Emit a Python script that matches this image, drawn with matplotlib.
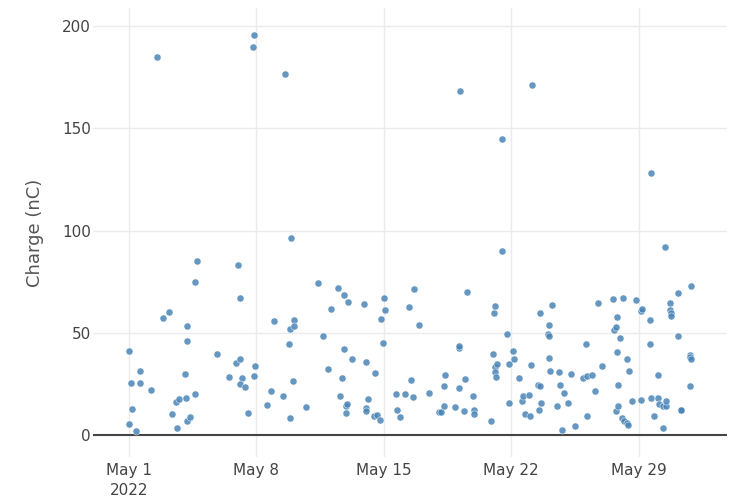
import matplotlib
matplotlib.use("Agg")
import matplotlib.pyplot as plt
import pandas as pd

times = [
    "04-30 23:30", "05-01 00:00", "05-01 02:30", "05-01 04:00", "05-01 09:00",
    "05-01 14:30", "05-01 15:00", "05-02 05:30", "05-02 12:30", "05-02 20:30",
    "05-03 05:00", "05-03 08:30", "05-03 14:30", "05-03 15:00", "05-03 17:30",
    "05-04 01:30", "05-04 03:30", "05-04 04:00", "05-04 04:30", "05-04 04:00",
    "05-04 08:00", "05-04 15:00", "05-04 15:00", "05-04 17:15", "05-05 20:30",
    "05-06 11:45", "05-06 20:40", "05-07 00:00", "05-07 02:30", "05-07 02:40",
    "05-07 04:30", "05-07 02:30", "05-07 08:40", "05-07 13:30", "05-07 19:30",
    "05-07 21:20", "05-07 21:20", "05-07 22:30", "05-08 14:00", "05-08 19:10",
    "05-08 23:45", "05-09 10:50", "05-09 13:40", "05-09 18:30", "05-09 20:25",
    "05-09 20:40", "05-09 21:35", "05-10 00:00", "05-10 01:40", "05-10 01:40",
    "05-10 16:50", "05-11 08:50", "05-11 15:50", "05-11 22:05", "05-12 02:25",
    "05-12 11:15", "05-12 14:10", "05-12 17:20", "05-12 19:10", "05-12 19:10",
    "05-12 21:35", "05-12 22:05", "05-12 23:00", "05-13 00:30", "05-13 05:45",
    "05-13 21:50", "05-14 01:00", "05-14 01:00", "05-14 00:50", "05-14 03:10",
    "05-14 10:50", "05-14 12:00", "05-14 15:20", "05-14 18:30", "05-14 20:50",
    "05-14 23:00", "05-15 00:45", "05-15 02:10", "05-15 16:05", "05-15 17:45",
    "05-15 21:50", "05-16 03:35", "05-16 09:35", "05-16 12:15", "05-16 14:10",
    "05-16 15:35", "05-16 22:05", "05-17 11:15", "05-18 00:15", "05-18 03:00",
    "05-18 07:25", "05-18 07:25", "05-18 09:10", "05-18 22:20", "05-19 02:40",
    "05-19 03:20", "05-19 03:20", "05-19 04:50", "05-19 09:20", "05-19 10:50",
    "05-19 14:10", "05-19 21:10", "05-19 23:00", "05-19 23:15", "05-20 20:50",
    "05-21 00:00", "05-21 01:40", "05-21 02:10", "05-21 02:40", "05-21 03:10",
    "05-21 04:20", "05-21 04:50", "05-21 11:30", "05-21 12:00", "05-21 19:00",
    "05-21 20:40", "05-21 20:40", "05-22 02:25", "05-22 03:20", "05-22 09:50",
    "05-22 13:55", "05-22 15:35", "05-22 17:45", "05-22 23:45", "05-23 00:30",
    "05-23 02:10", "05-23 03:20", "05-23 11:15", "05-23 13:10", "05-23 14:25",
    "05-23 14:25", "05-23 15:35", "05-24 00:00", "05-24 01:55", "05-24 02:25",
    "05-24 02:25", "05-24 03:10", "05-24 06:15", "05-24 12:30", "05-24 15:10",
    "05-24 15:50", "05-24 19:25", "05-24 21:35", "05-25 03:20", "05-25 07:10",
    "05-25 12:15", "05-25 22:50", "05-26 03:05", "05-26 03:35", "05-26 04:20",
    "05-26 10:35", "05-26 14:50", "05-26 19:00", "05-26 23:15", "05-27 13:40",
    "05-27 15:10", "05-27 17:45", "05-27 18:15", "05-27 19:25", "05-27 19:25",
    "05-27 20:25", "05-27 20:25", "05-27 23:45", "05-28 01:40", "05-28 03:20",
    "05-28 05:15", "05-28 08:10", "05-28 09:10", "05-28 09:35", "05-28 11:15",
    "05-28 14:55", "05-28 20:55", "05-29 02:40", "05-29 02:40", "05-29 04:35",
    "05-29 15:10", "05-29 15:10", "05-29 16:20", "05-29 16:20", "05-29 20:25",
    "05-30 01:10", "05-30 01:10", "05-30 03:20", "05-30 08:10", "05-30 08:40",
    "05-30 11:15", "05-30 11:45", "05-30 12:15", "05-30 16:50", "05-30 17:45",
    "05-30 18:15", "05-30 18:40", "05-31 03:35", "05-31 03:35", "05-31 07:25",
    "05-31 07:55", "05-31 19:25", "05-31 19:40", "05-31 20:10", "05-31 20:40",
    "05-31 20:40",
]
charge = [
    5.4, 41.2, 25.4, 12.6, 2.1,
    25.3, 31.6, 22.3, 185.0, 57.4,
    60.0, 10.4, 16.3, 3.6, 17.6,
    29.7, 18.4, 53.4, 46.1, 7.2,
    9.1, 20.2, 74.8, 85.4, 39.8,
    28.4, 35.4, 83.1, 37.3, 67.1,
    28.2, 25.1, 23.5, 10.9, 189.7,
    195.6, 29.0, 33.7, 15.0, 21.8,
    55.6, 19.1, 176.4, 44.5, 8.3,
    52.0, 96.5, 26.7, 56.4, 53.3,
    14.0, 74.2, 48.6, 32.4, 61.8,
    72.0, 19.4, 28.0, 68.6, 42.0,
    14.3, 10.9, 15.2, 65.2, 37.2,
    64.1, 35.7, 13.5, 11.7, 17.9,
    9.6, 30.5, 9.9, 7.5, 57.0,
    45.0, 67.1, 61.0, 20.3, 12.2,
    9.0, 20.3, 62.6, 27.2, 18.9,
    71.6, 53.8, 20.5, 11.4, 11.5,
    24.1, 14.3, 29.5, 14.0, 23.0,
    42.5, 43.4, 168.4, 11.9, 27.4,
    70.1, 19.4, 12.2, 10.4, 6.8,
    39.5, 59.7, 33.2, 30.7, 63.1,
    28.5, 34.7, 90.0, 144.6, 49.5,
    35.0, 15.6, 41.2, 37.3, 28.2,
    16.9, 19.2, 10.3, 19.6, 9.3,
    34.2, 171.4, 24.4, 12.1, 24.1,
    59.8, 15.6, 49.4, 37.8, 53.9,
    48.7, 31.6, 63.9, 14.2, 31.1,
    24.8, 2.8, 20.5, 15.6, 30.0,
    4.7, 28.0, 44.8, 9.6, 29.0,
    29.3, 21.5, 64.5, 33.6, 66.8,
    51.2, 11.7, 53.1, 57.7, 40.9,
    24.8, 14.5, 47.3, 8.6, 67.0,
    7.0, 6.0, 37.2, 4.9, 31.6,
    16.9, 66.0, 17.1, 60.8, 61.9,
    56.2, 44.5, 128.0, 18.4, 9.3,
    18.4, 29.5, 15.5, 14.3, 3.3,
    92.1, 14.3, 16.5, 64.7, 61.1,
    59.8, 58.5, 69.6, 48.4, 12.1,
    12.3, 24.3, 39.3, 38.1, 37.3,
    72.9,
]

tick_dates = ["2022-05-01", "2022-05-08", "2022-05-15", "2022-05-22", "2022-05-29"]
tick_labels = ["May 1\n2022", "May 8", "May 15", "May 22", "May 29"]
y_ticks = [0, 50, 100, 150, 200]

x = pd.to_datetime(["2022-" + t for t in times])

fig = plt.figure(figsize=(7.3, 5.04), dpi=100)
ax = fig.add_axes([0.1274, 0.093, 0.8686, 0.891])

ax.scatter(x, charge, s=26, color="#4a85b6", alpha=0.85,
           edgecolors="white", linewidths=0.4, zorder=3)

# zero line
ax.axhline(0, color="#444444", linewidth=1.5, zorder=2)

ax.set_xlim(pd.Timestamp("2022-04-29 00:30"), pd.Timestamp("2022-06-02 20:40"))
ax.set_ylim(-10.7, 208.8)

ax.set_xticks(pd.to_datetime(tick_dates))
ax.set_xticklabels(tick_labels)
ax.set_yticks(y_ticks)

ax.grid(True, color="#ebebeb", linewidth=1.0, zorder=0)
ax.set_axisbelow(True)
for sp in ax.spines.values():
    sp.set_visible(False)

ax.tick_params(axis="both", length=0, labelsize=11, labelcolor="#444444")
ax.tick_params(axis="y", pad=1.5)
ax.tick_params(axis="x", pad=4)
for lbl in ax.get_xticklabels():
    lbl.set_linespacing(1.45)

ax.set_ylabel("Charge (nC)", fontsize=13, color="#555555", labelpad=13)

fig.savefig("out.png", dpi=100, facecolor="white")
